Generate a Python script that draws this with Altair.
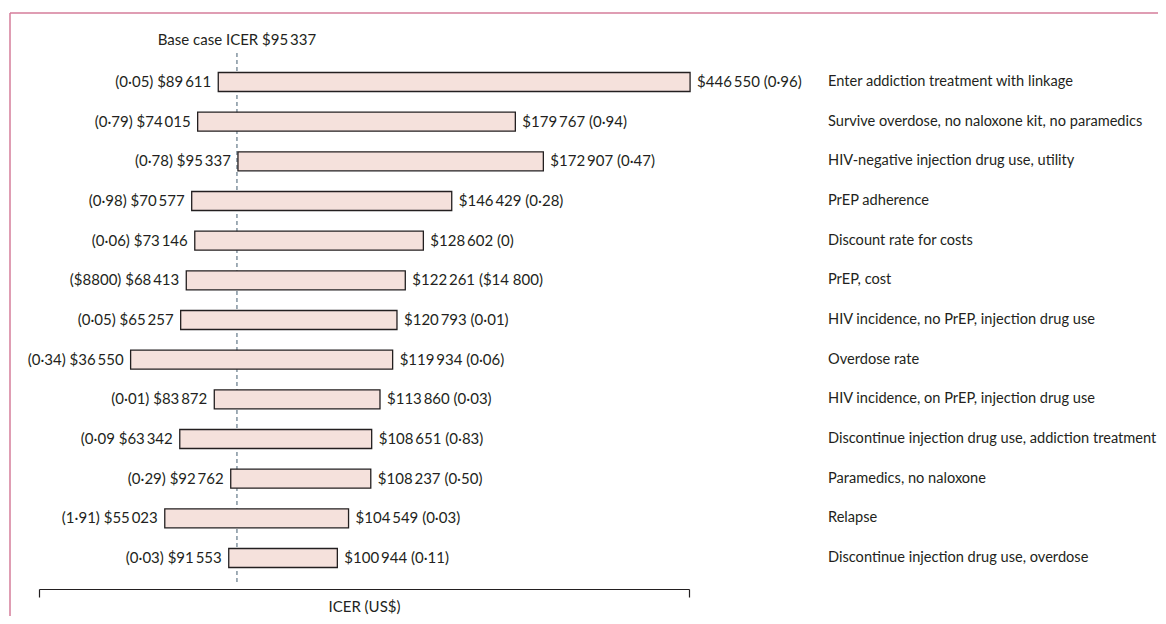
import altair as alt
import pandas as pd

# ---- data ----
params = [
    "Enter addiction treatment with linkage",
    "Survive overdose, no naloxone kit, no paramedics",
    "HIV-negative injection drug use, utility",
    "PrEP adherence",
    "Discount rate for costs",
    "PrEP, cost",
    "HIV incidence, no PrEP, injection drug use",
    "Overdose rate",
    "HIV incidence, on PrEP, injection drug use",
    "Discontinue injection drug use, addiction treatment",
    "Paramedics, no naloxone",
    "Relapse",
    "Discontinue injection drug use, overdose",
]
low_param = ["(0·05)", "(0·79)", "(0·78)", "(0·98)", "(0·06)", "($8800)", "(0·05)",
             "(0·34)", "(0·01)", "(0·09", "(0·29)", "(1·91)", "(0·03)"]
low_icer = [89611, 74015, 95337, 70577, 73146, 68413, 65257, 36550, 83872, 63342, 92762, 55023, 91553]
high_icer = [446550, 179767, 172907, 146429, 128602, 122261, 120793, 119934, 113860, 108651, 108237, 104549, 100944]
high_param = ["(0·96)", "(0·94)", "(0·47)", "(0·28)", "(0)", "($14 800)", "(0·01)",
              "(0·06)", "(0·03)", "(0·83)", "(0·50)", "(0·03)", "(0·11)"]
# bar extents as drawn on the figure's (unlabelled) ICER axis
bar_low = [85000, 73600, 95900, 70300, 72000, 67300, 64200, 36500, 82800, 63700, 91900, 55400, 90800]
bar_high = [346100, 249400, 264900, 214200, 198500, 188500, 183900, 181500, 174500, 169900, 169400, 157100, 150900]
base_icer = 95337
axis_domain = [-14200, 345500]


def money(v):
    s = f"{v:,}".replace(",", "\u2009")
    return "$" + s


df = pd.DataFrame({
    "param": params,
    "bar_low": bar_low,
    "bar_high": bar_high,
    "low_lab": [f"{p} {money(v)}" for p, v in zip(low_param, low_icer)],
    "high_lab": [f"{money(v)} {p}" for p, v in zip(high_param, high_icer)],
})
base_df = pd.DataFrame({"base": [base_icer], "lab": ["Base case ICER " + money(base_icer)]})

FONT = "Lato"
FS = 15
TXT = "#231f20"

xscale = alt.Scale(domain=axis_domain, nice=False, zero=False)
yenc = alt.Y("param:N", sort=params, axis=None,
             scale=alt.Scale(paddingInner=0.521, paddingOuter=0.5415))

base = alt.Chart(df)

bars = base.mark_bar(fill="#f5e1dc", stroke="#231f20", strokeWidth=1.3).encode(
    x=alt.X("bar_low:Q", scale=xscale,
            axis=alt.Axis(values=axis_domain, labels=False, grid=False, tickSize=8,
                          tickColor=TXT, domainColor=TXT, tickWidth=1.2, domainWidth=1.2,
                          title="ICER (US$)", titleFont=FONT, titleFontSize=FS,
                          titleFontWeight="normal", titleColor=TXT, titlePadding=2)),
    x2="bar_high:Q",
    y=yenc,
)

left_txt = base.mark_text(align="right", baseline="middle", dx=-7, font=FONT,
                          fontSize=FS, color=TXT).encode(
    x="bar_low:Q", y=yenc, text="low_lab:N")
right_txt = base.mark_text(align="left", baseline="middle", dx=7, font=FONT,
                           fontSize=FS, color=TXT).encode(
    x="bar_high:Q", y=yenc, text="high_lab:N")
name_txt = base.mark_text(align="left", baseline="middle", font=FONT,
                          fontSize=14.6, color=TXT).encode(
    x=alt.value(789), y=yenc, text="param:N")

bchart = alt.Chart(base_df)
dash = bchart.mark_rule(color="#6f8391", strokeWidth=1.3, strokeDash=[4, 3]).encode(
    x="base:Q", y=alt.value(2), y2=alt.value(534))
base_lab = bchart.mark_text(align="center", baseline="middle", font=FONT,
                            fontSize=FS, color=TXT).encode(
    x="base:Q", y=alt.value(-11.5), text="lab:N")

frame_v = bchart.mark_rule(color="#d57c9a", strokeWidth=1.5).encode(
    x=alt.value(-29), y=alt.value(-38), y2=alt.value(700))
frame_h = bchart.mark_rule(color="#d57c9a", strokeWidth=1.5).encode(
    x=alt.value(-29), x2=alt.value(1300), y=alt.value(-38))

chart = alt.layer(frame_v, frame_h, dash, bars, left_txt, right_txt, name_txt, base_lab).properties(
    width=650, height=538,
    autosize=alt.AutoSizeParams(type="none"),
    padding={"left": 31, "top": 43, "right": 469, "bottom": 27},
    background="white",
).configure_view(strokeWidth=0)

chart.save("out.html", embed_options={"renderer": "svg", "actions": False})
